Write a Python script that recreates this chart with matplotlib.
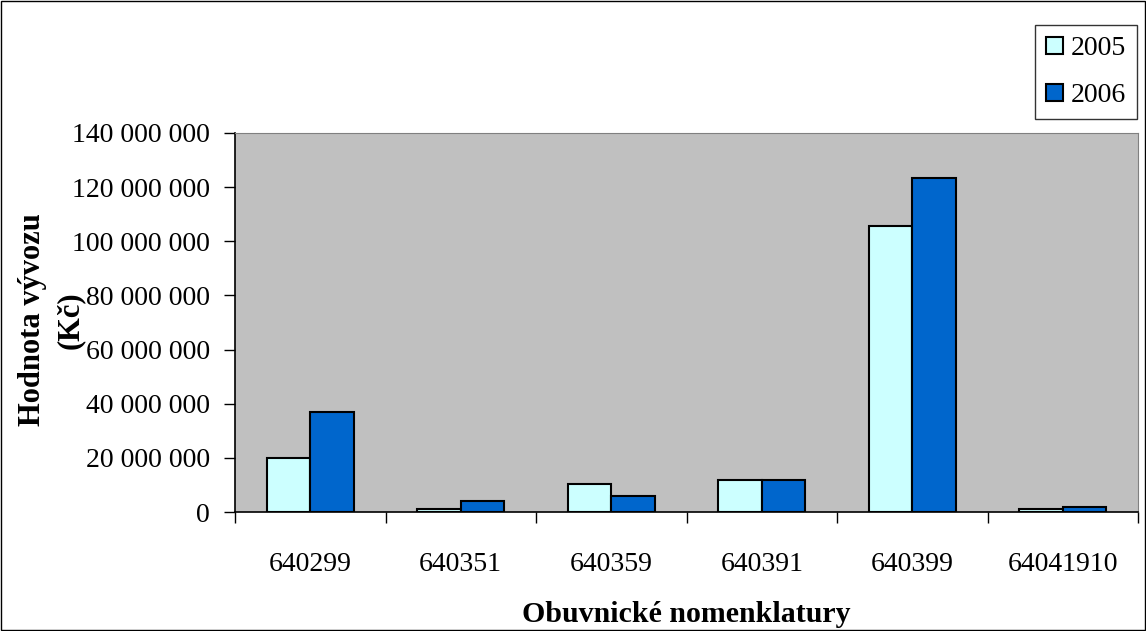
import matplotlib
matplotlib.use("Agg")
import matplotlib.pyplot as plt
import numpy as np
from matplotlib.ticker import FuncFormatter, MultipleLocator, FixedLocator

categories = ["640299", "640351", "640359", "640391", "640399", "64041910"]
values_2005 = [20_000_000, 1_000_000, 10_500_000, 12_000_000, 105_500_000, 1_000_000]
values_2006 = [37_000_000, 4_000_000, 6_000_000, 12_000_000, 123_500_000, 2_000_000]
series_labels = ["2005", "2006"]
ylabel_lines = ["Hodnota vývozu", "(Kč)"]

plt.rcParams['font.family'] = ['Liberation Serif', 'DejaVu Serif']
FS = 20

fig = plt.figure(figsize=(11.46, 6.31), dpi=100)
ax = fig.add_axes([235/1146, 119/631, (1138-235)/1146, (512-133)/631])
ax.set_facecolor('#C0C0C0')

x = np.arange(len(categories))
w = 0.29
ax.bar(x - w/2, values_2005, w, color='#CCFFFF', edgecolor='black', linewidth=1.5, label=series_labels[0])
ax.bar(x + w/2, values_2006, w, color='#0066CC', edgecolor='black', linewidth=1.5, label=series_labels[1])

ax.set_xlim(-0.5, len(categories) - 0.5)
ax.set_ylim(0, 140_000_000)
ax.yaxis.set_major_locator(MultipleLocator(20_000_000))
ax.yaxis.set_major_formatter(FuncFormatter(lambda v, p: f"{int(v):,}".replace(",", " ")))
ax.set_xticks(x)
ax.set_xticklabels(categories)
ax.xaxis.set_minor_locator(FixedLocator(np.arange(-0.5, len(categories), 1.0)))
ax.tick_params(axis='x', which='major', length=0, pad=29, labelsize=FS)
ax.tick_params(axis='x', which='minor', length=8, width=1, direction='out')
ax.tick_params(axis='y', length=8, width=1, direction='out', labelsize=FS, pad=10)

for s in ['top', 'right']:
    ax.spines[s].set_color('#808080')
for s in ['left', 'bottom']:
    ax.spines[s].set_color('black')
    ax.spines[s].set_linewidth(1.2)

ax.set_xlabel("Obuvnické nomenklatury", fontsize=21.5, fontweight='bold')
ax.xaxis.set_label_coords(0.5, -0.235)

# Two-line y-axis title drawn as separate rotated texts
fig.text(33/1146, 1 - 320/631, ylabel_lines[0], rotation=90, ha='center', va='center',
         fontsize=22, fontweight='bold')
fig.text(70/1146, 1 - 320/631, ylabel_lines[1], rotation=90, ha='center', va='center',
         fontsize=22, fontweight='bold')

leg = ax.legend(loc='upper left', bbox_to_anchor=(1035/1146, 1-25/631), bbox_transform=fig.transFigure,
                fontsize=FS, frameon=True, fancybox=False, edgecolor='black',
                handlelength=0.6, handleheight=0.6, handletextpad=0.3, labelspacing=0.8,
                borderpad=0.4, borderaxespad=0)
leg.get_frame().set_linewidth(1)

fig.patches.append(plt.Rectangle((0.001, 0.001), 0.998, 0.997, transform=fig.transFigure,
                                 fill=False, edgecolor='black', linewidth=1))

fig.savefig("out.png", dpi=100)
